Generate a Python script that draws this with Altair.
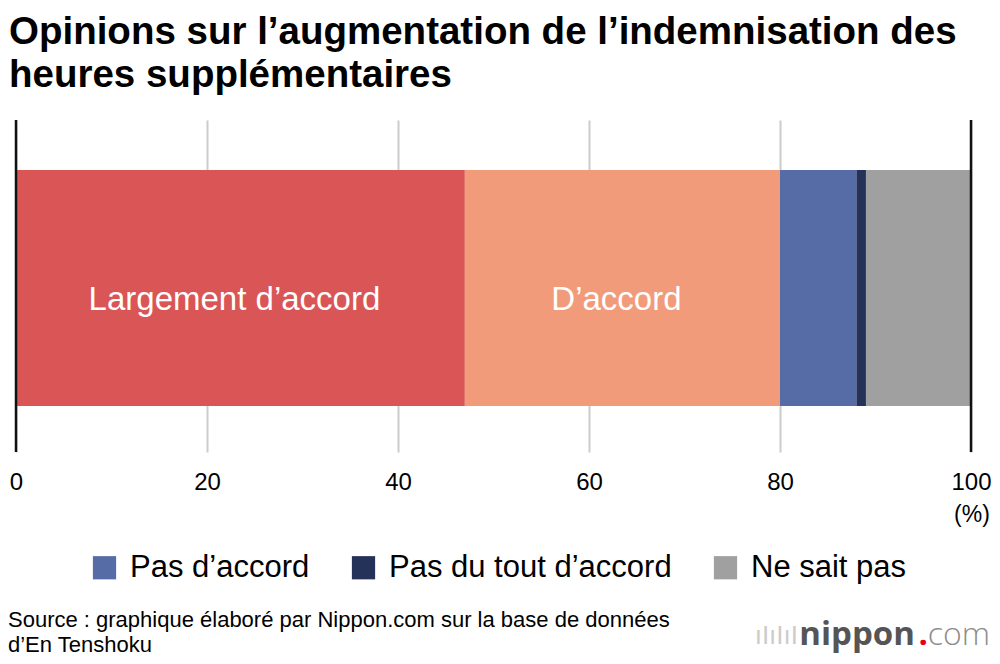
import altair as alt
import pandas as pd

categories = ["Largement d’accord", "D’accord", "Pas d’accord", "Pas du tout d’accord", "Ne sait pas"]
values = [47, 33, 8, 1, 11]
colors = ["#d95556", "#f19b7a", "#566ca6", "#243159", "#a0a0a0"]
legend_items = ["Pas d’accord", "Pas du tout d’accord", "Ne sait pas"]
inside_labels = ["Largement d’accord", "D’accord"]
x_ticks = [0, 20, 40, 60, 80, 100]

FONT = "Liberation Sans"

starts, ends = [], []
acc = 0
for v in values:
    starts.append(acc)
    acc += v
    ends.append(acc)
df = pd.DataFrame({"cat": categories, "value": values, "start": starts, "end": ends,
                   "row": ["r"] * len(categories)})
df["mid"] = (df["start"] + df["end"]) / 2

xscale = alt.Scale(domain=[0, 100], nice=False, zero=False)
yscale = alt.Scale(paddingInner=0, paddingOuter=0.2034, align=0.52)

bars = alt.Chart(df).mark_bar(stroke=None).encode(
    x=alt.X("start:Q", scale=xscale,
            axis=alt.Axis(values=x_ticks, grid=True, gridColor="#cccccc", gridWidth=2,
                          domain=False, ticks=False, labelFontSize=24, labelColor="#000000",
                          labelFont=FONT, labelPadding=18, labelFlush=False, title=None)),
    x2="end:Q",
    y=alt.Y("row:N", scale=yscale, axis=None),
    color=alt.Color("cat:N", scale=alt.Scale(domain=categories, range=colors),
                    legend=alt.Legend(values=legend_items, orient="none", legendX=73, legendY=432,
                                      direction="horizontal", title=None, symbolType="square",
                                      symbolSize=540, symbolStrokeWidth=0, symbolOpacity=1,
                                      labelFontSize=31, labelFont=FONT, labelColor="#000000",
                                      labelOffset=10, columnPadding=38, labelLimit=500)),
)

texts = alt.Chart(df).transform_filter(
    alt.FieldOneOfPredicate(field="cat", oneOf=inside_labels)
).mark_text(color="white", fontSize=33, font=FONT, baseline="middle", dy=12, dx=-6).encode(
    x=alt.X("mid:Q", scale=xscale),
    y=alt.Y("row:N", scale=yscale),
    text="cat:N",
)

edges = alt.Chart(pd.DataFrame({"x": [0, 100]})).mark_rule(color="#111111", strokeWidth=2.5).encode(
    x=alt.X("x:Q", scale=xscale)
)

pct = alt.Chart(pd.DataFrame({"x": [100], "t": ["(%)"]})).mark_text(
    fontSize=23, font=FONT, color="#000000", baseline="middle", dx=1
).encode(x=alt.X("x:Q", scale=xscale), y=alt.value(395), text="t:N")

source = alt.Chart(pd.DataFrame({"t": [["Source : graphique élaboré par Nippon.com sur la base de données", "d’En Tenshoku"]]})).mark_text(
    fontSize=22, font=FONT, color="#000000", align="left", baseline="middle", lineHeight=25
).encode(x=alt.value(-8), y=alt.value(500), text="t:N")

logo_main = alt.Chart(pd.DataFrame({"t": ["nippon"]})).mark_text(
    fontSize=33, font="Open Sans", fontWeight="bold", color="#555555", align="right", baseline="middle"
).encode(x=alt.value(899), y=alt.value(515), text="t:N")
logo_dot = alt.Chart(pd.DataFrame({"t": ["."]})).mark_text(
    fontSize=33, font="Open Sans", fontWeight="bold", color="#e60012", align="right", baseline="middle"
).encode(x=alt.value(912), y=alt.value(515), text="t:N")
logo_com = alt.Chart(pd.DataFrame({"t": ["com"]})).mark_text(
    fontSize=32, font="Open Sans", fontWeight=300, color="#8c8c8c", align="right", baseline="middle"
).encode(x=alt.value(974), y=alt.value(515), text="t:N")
logo_icon = alt.Chart(pd.DataFrame({"t": ["ıIıIıI"]})).mark_text(
    fontSize=26, font=FONT, color="#cccccc", align="right", baseline="middle"
).encode(x=alt.value(782), y=alt.value(516), text="t:N")

chart = alt.layer(bars, texts, edges, pct, source, logo_icon, logo_main, logo_dot, logo_com).properties(
    width=955, height=332,
    title=alt.TitleParams(
        ["Opinions sur l’augmentation de l’indemnisation des", "heures supplémentaires"],
        anchor="start", frame="group", dx=-7, fontSize=38.5, font=FONT, fontWeight="bold", color="#000000",
        lineHeight=43, offset=23,
    ),
    autosize=alt.AutoSizeParams(type="none"),
    padding={"left": 8, "top": 112, "right": 21, "bottom": 204},
).configure_view(stroke=None)

chart.save("out.html", embed_options={"renderer": "svg", "actions": False})
